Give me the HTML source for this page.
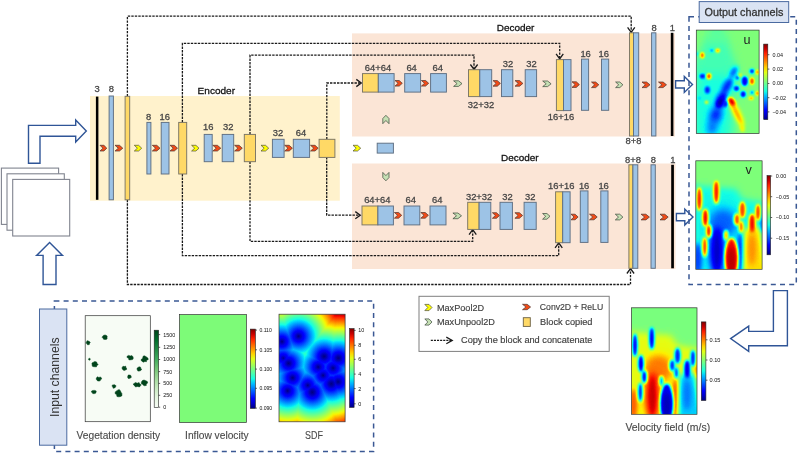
<!DOCTYPE html><html><head><meta charset="utf-8"><style>html,body{margin:0;padding:0;background:#fff;overflow:hidden}svg{display:block;will-change:transform;filter:blur(0.3px)}text{font-family:"Liberation Sans", sans-serif}</style></head><body>
<svg width="798" height="454" viewBox="0 0 798 454">
<rect width="798" height="454" fill="#fff"/>
<rect x="90.0" y="96.0" width="249.8" height="104.7" fill="#fff2cc"/>
<rect x="352.0" y="33.4" width="323.0" height="103.1" fill="#fbe5d6"/>
<rect x="352.0" y="163.5" width="323.5" height="105.5" fill="#fbe5d6"/>
<path d="M127.4,96.3 V16.2 H631.2 V32" stroke="#1a1a1a" stroke-width="1.3" stroke-dasharray="2.4 1.1" fill="none"/>
<path d="M627.6,27.4 L631.2,32.4 L634.8,27.4" stroke="#1a1a1a" stroke-width="1.3" fill="none"/>
<path d="M182.4,122.4 V43.3 H559.7 V58.5" stroke="#1a1a1a" stroke-width="1.3" stroke-dasharray="2.4 1.1" fill="none"/>
<path d="M556.1,53.8 L559.7,58.8 L563.3,53.8" stroke="#1a1a1a" stroke-width="1.3" fill="none"/>
<path d="M250,134.4 V55.1 H474 V69.2" stroke="#1a1a1a" stroke-width="1.3" stroke-dasharray="2.4 1.1" fill="none"/>
<path d="M470.4,64.5 L474.0,69.5 L477.6,64.5" stroke="#1a1a1a" stroke-width="1.3" fill="none"/>
<path d="M326.8,139.3 V83 H361" stroke="#1a1a1a" stroke-width="1.3" stroke-dasharray="2.4 1.1" fill="none"/>
<path d="M356.3,79.4 L361.3,83.0 L356.3,86.6" stroke="#1a1a1a" stroke-width="1.3" fill="none"/>
<path d="M127.4,199.8 V284.5 H630.5 V268.8" stroke="#1a1a1a" stroke-width="1.3" stroke-dasharray="2.4 1.1" fill="none"/>
<path d="M626.9,273.5 L630.5,268.5 L634.1,273.5" stroke="#1a1a1a" stroke-width="1.3" fill="none"/>
<path d="M182.4,174 V255.7 H558.7 V243.2" stroke="#1a1a1a" stroke-width="1.3" stroke-dasharray="2.4 1.1" fill="none"/>
<path d="M555.1,247.9 L558.7,242.9 L562.3,247.9" stroke="#1a1a1a" stroke-width="1.3" fill="none"/>
<path d="M250,161.7 V241.4 H472.7 V229.9" stroke="#1a1a1a" stroke-width="1.3" stroke-dasharray="2.4 1.1" fill="none"/>
<path d="M469.1,234.6 L472.7,229.6 L476.3,234.6" stroke="#1a1a1a" stroke-width="1.3" fill="none"/>
<path d="M326.7,157 V215.2 H360" stroke="#1a1a1a" stroke-width="1.3" stroke-dasharray="2.4 1.1" fill="none"/>
<path d="M355.3,211.6 L360.3,215.2 L355.3,218.8" stroke="#1a1a1a" stroke-width="1.3" fill="none"/>
<rect x="95.9" y="96.6" width="2.5" height="103.2" fill="#000"/>
<polygon points="100.0,145.3 103.9,145.3 106.8,148.2 103.9,151.0 100.0,151.0 102.9,148.2" fill="#f24b17" stroke="#4a3530" stroke-width="0.7" stroke-linejoin="round"/>
<rect x="109.1" y="96.0" width="4.3" height="103.8" fill="#9dc3e6" stroke="#5f6f82" stroke-width="0.95"/>
<polygon points="115.0,145.3 119.5,145.3 122.8,148.2 119.5,151.0 115.0,151.0 118.3,148.2" fill="#f24b17" stroke="#4a3530" stroke-width="0.7" stroke-linejoin="round"/>
<rect x="125.1" y="96.3" width="4.6" height="103.5" fill="#ffd966" stroke="#7a7565" stroke-width="0.95"/>
<polygon points="134.3,145.3 138.6,145.3 141.7,148.2 138.6,151.0 134.3,151.0 137.4,148.2" fill="#ffff00" stroke="#4f4f3a" stroke-width="0.7" stroke-linejoin="round"/>
<rect x="146.9" y="122.4" width="4.0" height="51.6" fill="#9dc3e6" stroke="#5f6f82" stroke-width="0.95"/>
<polygon points="152.3,145.3 156.8,145.3 160.0,148.2 156.8,151.0 152.3,151.0 155.5,148.2" fill="#f24b17" stroke="#4a3530" stroke-width="0.7" stroke-linejoin="round"/>
<rect x="161.2" y="122.4" width="7.8" height="51.6" fill="#9dc3e6" stroke="#5f6f82" stroke-width="0.95"/>
<polygon points="170.0,145.3 174.3,145.3 177.5,148.2 174.3,151.0 170.0,151.0 173.2,148.2" fill="#f24b17" stroke="#4a3530" stroke-width="0.7" stroke-linejoin="round"/>
<rect x="178.7" y="122.4" width="8.0" height="51.6" fill="#ffd966" stroke="#7a7565" stroke-width="0.95"/>
<polygon points="191.6,145.3 195.9,145.3 199.0,148.2 195.9,151.0 191.6,151.0 194.7,148.2" fill="#ffff00" stroke="#4f4f3a" stroke-width="0.7" stroke-linejoin="round"/>
<rect x="204.2" y="134.4" width="8.0" height="27.3" fill="#9dc3e6" stroke="#5f6f82" stroke-width="0.95"/>
<polygon points="212.8,145.3 217.4,145.3 220.8,148.2 217.4,151.0 212.8,151.0 216.2,148.2" fill="#f24b17" stroke="#4a3530" stroke-width="0.7" stroke-linejoin="round"/>
<rect x="222.2" y="134.4" width="11.5" height="27.3" fill="#9dc3e6" stroke="#5f6f82" stroke-width="0.95"/>
<polygon points="234.6,145.3 239.1,145.3 242.3,148.2 239.1,151.0 234.6,151.0 237.8,148.2" fill="#f24b17" stroke="#4a3530" stroke-width="0.7" stroke-linejoin="round"/>
<rect x="244.3" y="134.4" width="11.2" height="27.3" fill="#ffd966" stroke="#7a7565" stroke-width="0.95"/>
<polygon points="261.0,145.3 265.5,145.3 268.7,148.2 265.5,151.0 261.0,151.0 264.2,148.2" fill="#ffff00" stroke="#4f4f3a" stroke-width="0.7" stroke-linejoin="round"/>
<rect x="272.4" y="139.3" width="11.7" height="18.1" fill="#9dc3e6" stroke="#5f6f82" stroke-width="0.95"/>
<polygon points="284.7,145.3 289.2,145.3 292.4,148.2 289.2,151.0 284.7,151.0 287.9,148.2" fill="#f24b17" stroke="#4a3530" stroke-width="0.7" stroke-linejoin="round"/>
<rect x="293.3" y="139.3" width="16.3" height="18.1" fill="#9dc3e6" stroke="#5f6f82" stroke-width="0.95"/>
<polygon points="310.5,145.3 315.0,145.3 318.2,148.2 315.0,151.0 310.5,151.0 313.7,148.2" fill="#f24b17" stroke="#4a3530" stroke-width="0.7" stroke-linejoin="round"/>
<rect x="319.1" y="139.3" width="15.8" height="18.1" fill="#ffd966" stroke="#7a7565" stroke-width="0.95"/>
<text x="97.1" y="92.2" font-size="9.4" fill="#454545" stroke="#454545" stroke-width="0.28" text-anchor="middle" >3</text>
<text x="111.3" y="92.2" font-size="9.4" fill="#454545" stroke="#454545" stroke-width="0.28" text-anchor="middle" >8</text>
<text x="148.7" y="119.5" font-size="9.4" fill="#454545" stroke="#454545" stroke-width="0.28" text-anchor="middle" >8</text>
<text x="164.8" y="119.5" font-size="9.4" fill="#454545" stroke="#454545" stroke-width="0.28" text-anchor="middle" >16</text>
<text x="208.3" y="129.6" font-size="9.4" fill="#454545" stroke="#454545" stroke-width="0.28" text-anchor="middle" >16</text>
<text x="228.3" y="129.6" font-size="9.4" fill="#454545" stroke="#454545" stroke-width="0.28" text-anchor="middle" >32</text>
<text x="278.0" y="136.4" font-size="9.4" fill="#454545" stroke="#454545" stroke-width="0.28" text-anchor="middle" >32</text>
<text x="301.0" y="136.4" font-size="9.4" fill="#454545" stroke="#454545" stroke-width="0.28" text-anchor="middle" >64</text>
<text x="197.6" y="93.6" font-size="9.9" fill="#111" stroke="#111" stroke-width="0.28" text-anchor="start"  textLength="37.4" lengthAdjust="spacingAndGlyphs">Encoder</text>
<polygon points="353.0,145.3 357.5,145.3 360.7,148.2 357.5,151.0 353.0,151.0 356.2,148.2" fill="#ffff00" stroke="#4f4f3a" stroke-width="0.7" stroke-linejoin="round"/>
<rect x="377.2" y="143.2" width="16.2" height="9.9" fill="#9dc3e6" stroke="#5f6f82" stroke-width="0.95"/>
<polygon points="382.8,123.7 382.8,118.5 385.9,115.3 389.0,118.5 389.0,123.7 385.9,120.5" fill="#c5e0b4" stroke="#3a463a" stroke-width="0.7" stroke-linejoin="round"/>
<polygon points="382.8,172.4 385.9,175.6 389.0,172.4 389.0,177.6 385.9,180.8 382.8,177.6" fill="#c5e0b4" stroke="#3a463a" stroke-width="0.7" stroke-linejoin="round"/>
<rect x="362.5" y="73.6" width="15.8" height="18.5" fill="#ffd966" stroke="#7a7565" stroke-width="0.95"/>
<rect x="378.3" y="73.6" width="15.8" height="18.5" fill="#9dc3e6" stroke="#5f6f82" stroke-width="0.95"/>
<polygon points="395.0,80.5 399.2,80.5 402.3,83.3 399.2,86.1 395.0,86.1 398.1,83.3" fill="#f24b17" stroke="#4a3530" stroke-width="0.7" stroke-linejoin="round"/>
<rect x="404.7" y="73.6" width="15.9" height="18.5" fill="#9dc3e6" stroke="#5f6f82" stroke-width="0.95"/>
<polygon points="421.4,80.5 425.6,80.5 428.7,83.3 425.6,86.1 421.4,86.1 424.5,83.3" fill="#f24b17" stroke="#4a3530" stroke-width="0.7" stroke-linejoin="round"/>
<rect x="430.6" y="73.6" width="15.8" height="18.5" fill="#9dc3e6" stroke="#5f6f82" stroke-width="0.95"/>
<polygon points="453.6,80.8 458.5,80.8 462.0,83.6 458.5,86.4 453.6,86.4 457.1,83.6" fill="#c5e0b4" stroke="#3a463a" stroke-width="0.7" stroke-linejoin="round"/>
<rect x="468.5" y="69.7" width="11.3" height="26.9" fill="#ffd966" stroke="#7a7565" stroke-width="0.95"/>
<rect x="479.8" y="69.7" width="11.9" height="26.9" fill="#9dc3e6" stroke="#5f6f82" stroke-width="0.95"/>
<polygon points="493.0,80.6 497.3,80.6 500.4,83.4 497.3,86.2 493.0,86.2 496.1,83.4" fill="#f24b17" stroke="#4a3530" stroke-width="0.7" stroke-linejoin="round"/>
<rect x="501.5" y="69.7" width="11.3" height="26.9" fill="#9dc3e6" stroke="#5f6f82" stroke-width="0.95"/>
<polygon points="515.0,80.6 519.6,80.6 522.9,83.4 519.6,86.2 515.0,86.2 518.3,83.4" fill="#f24b17" stroke="#4a3530" stroke-width="0.7" stroke-linejoin="round"/>
<rect x="525.2" y="69.7" width="11.4" height="26.9" fill="#9dc3e6" stroke="#5f6f82" stroke-width="0.95"/>
<polygon points="542.7,81.0 547.6,81.0 551.1,83.8 547.6,86.6 542.7,86.6 546.2,83.8" fill="#c5e0b4" stroke="#3a463a" stroke-width="0.7" stroke-linejoin="round"/>
<rect x="556.4" y="59.6" width="7.1" height="51.0" fill="#ffd966" stroke="#7a7565" stroke-width="0.95"/>
<rect x="563.5" y="59.6" width="7.5" height="51.0" fill="#9dc3e6" stroke="#5f6f82" stroke-width="0.95"/>
<polygon points="572.0,81.8 576.3,81.8 579.4,84.6 576.3,87.4 572.0,87.4 575.1,84.6" fill="#f24b17" stroke="#4a3530" stroke-width="0.7" stroke-linejoin="round"/>
<rect x="581.5" y="59.1" width="7.1" height="51.2" fill="#9dc3e6" stroke="#5f6f82" stroke-width="0.95"/>
<polygon points="591.5,82.0 595.7,82.0 598.8,84.8 595.7,87.6 591.5,87.6 594.6,84.8" fill="#f24b17" stroke="#4a3530" stroke-width="0.7" stroke-linejoin="round"/>
<rect x="601.5" y="59.1" width="7.2" height="51.2" fill="#9dc3e6" stroke="#5f6f82" stroke-width="0.95"/>
<polygon points="615.6,82.0 619.8,82.0 622.9,84.8 619.8,87.6 615.6,87.6 618.7,84.8" fill="#c5e0b4" stroke="#3a463a" stroke-width="0.7" stroke-linejoin="round"/>
<rect x="629.5" y="32.8" width="4.0" height="103.2" fill="#ffd966" stroke="#7a7565" stroke-width="0.95"/>
<rect x="633.5" y="32.8" width="5.2" height="103.2" fill="#9dc3e6" stroke="#5f6f82" stroke-width="0.95"/>
<polygon points="642.0,82.0 646.6,82.0 650.0,84.8 646.6,87.6 642.0,87.6 645.4,84.8" fill="#f24b17" stroke="#4a3530" stroke-width="0.7" stroke-linejoin="round"/>
<rect x="651.6" y="32.8" width="4.3" height="103.2" fill="#9dc3e6" stroke="#5f6f82" stroke-width="0.95"/>
<polygon points="658.5,82.0 663.1,82.0 666.5,84.8 663.1,87.6 658.5,87.6 661.9,84.8" fill="#f24b17" stroke="#4a3530" stroke-width="0.7" stroke-linejoin="round"/>
<rect x="670.8" y="32.8" width="2.6" height="103.2" fill="#000"/>
<text x="378.0" y="70.7" font-size="9.4" fill="#454545" stroke="#454545" stroke-width="0.28" text-anchor="middle" >64+64</text>
<text x="411.6" y="70.7" font-size="9.4" fill="#454545" stroke="#454545" stroke-width="0.28" text-anchor="middle" >64</text>
<text x="437.7" y="70.7" font-size="9.4" fill="#454545" stroke="#454545" stroke-width="0.28" text-anchor="middle" >64</text>
<text x="481.0" y="107.6" font-size="9.4" fill="#454545" stroke="#454545" stroke-width="0.28" text-anchor="middle" >32+32</text>
<text x="508.0" y="67.1" font-size="9.4" fill="#454545" stroke="#454545" stroke-width="0.28" text-anchor="middle" >32</text>
<text x="531.4" y="67.1" font-size="9.4" fill="#454545" stroke="#454545" stroke-width="0.28" text-anchor="middle" >32</text>
<text x="561.0" y="119.6" font-size="9.4" fill="#454545" stroke="#454545" stroke-width="0.28" text-anchor="middle" >16+16</text>
<text x="585.6" y="57.1" font-size="9.4" fill="#454545" stroke="#454545" stroke-width="0.28" text-anchor="middle" >16</text>
<text x="603.8" y="57.1" font-size="9.4" fill="#454545" stroke="#454545" stroke-width="0.28" text-anchor="middle" >16</text>
<text x="654.1" y="31.0" font-size="9.4" fill="#454545" stroke="#454545" stroke-width="0.28" text-anchor="middle" >8</text>
<text x="672.4" y="31.0" font-size="9.4" fill="#454545" stroke="#454545" stroke-width="0.28" text-anchor="middle" >1</text>
<text x="633.5" y="143.8" font-size="9.4" fill="#454545" stroke="#454545" stroke-width="0.28" text-anchor="middle" >8+8</text>
<text x="496.8" y="30.9" font-size="9.9" fill="#111" stroke="#111" stroke-width="0.28" text-anchor="start"  textLength="37.6" lengthAdjust="spacingAndGlyphs">Decoder</text>
<rect x="362.0" y="206.0" width="15.9" height="18.9" fill="#ffd966" stroke="#7a7565" stroke-width="0.95"/>
<rect x="377.9" y="206.0" width="15.5" height="18.9" fill="#9dc3e6" stroke="#5f6f82" stroke-width="0.95"/>
<polygon points="394.4,212.5 398.6,212.5 401.7,215.3 398.6,218.2 394.4,218.2 397.5,215.3" fill="#f24b17" stroke="#4a3530" stroke-width="0.7" stroke-linejoin="round"/>
<rect x="404.0" y="206.0" width="15.8" height="18.9" fill="#9dc3e6" stroke="#5f6f82" stroke-width="0.95"/>
<polygon points="420.8,212.5 425.2,212.5 428.4,215.3 425.2,218.2 420.8,218.2 424.0,215.3" fill="#f24b17" stroke="#4a3530" stroke-width="0.7" stroke-linejoin="round"/>
<rect x="430.0" y="206.0" width="16.0" height="18.9" fill="#9dc3e6" stroke="#5f6f82" stroke-width="0.95"/>
<polygon points="452.9,213.0 457.9,213.0 461.5,215.8 457.9,218.7 452.9,218.7 456.5,215.8" fill="#c5e0b4" stroke="#3a463a" stroke-width="0.7" stroke-linejoin="round"/>
<rect x="467.7" y="202.3" width="11.4" height="27.1" fill="#ffd966" stroke="#7a7565" stroke-width="0.95"/>
<rect x="479.1" y="202.3" width="11.7" height="27.1" fill="#9dc3e6" stroke="#5f6f82" stroke-width="0.95"/>
<polygon points="492.4,212.7 496.5,212.7 499.5,215.5 496.5,218.3 492.4,218.3 495.4,215.5" fill="#f24b17" stroke="#4a3530" stroke-width="0.7" stroke-linejoin="round"/>
<rect x="500.0" y="202.3" width="12.4" height="27.1" fill="#9dc3e6" stroke="#5f6f82" stroke-width="0.95"/>
<polygon points="514.9,212.7 519.4,212.7 522.6,215.5 519.4,218.3 514.9,218.3 518.1,215.5" fill="#f24b17" stroke="#4a3530" stroke-width="0.7" stroke-linejoin="round"/>
<rect x="524.1" y="202.3" width="12.1" height="27.1" fill="#9dc3e6" stroke="#5f6f82" stroke-width="0.95"/>
<polygon points="542.6,213.5 546.9,213.5 550.0,216.3 546.9,219.2 542.6,219.2 545.7,216.3" fill="#c5e0b4" stroke="#3a463a" stroke-width="0.7" stroke-linejoin="round"/>
<rect x="555.6" y="191.8" width="7.1" height="50.9" fill="#ffd966" stroke="#7a7565" stroke-width="0.95"/>
<rect x="562.7" y="191.8" width="7.4" height="50.9" fill="#9dc3e6" stroke="#5f6f82" stroke-width="0.95"/>
<polygon points="571.0,214.2 575.1,214.2 578.1,217.0 575.1,219.8 571.0,219.8 574.0,217.0" fill="#f24b17" stroke="#4a3530" stroke-width="0.7" stroke-linejoin="round"/>
<rect x="580.3" y="190.9" width="7.7" height="51.5" fill="#9dc3e6" stroke="#5f6f82" stroke-width="0.95"/>
<polygon points="589.5,214.2 594.0,214.2 597.2,217.0 594.0,219.8 589.5,219.8 592.7,217.0" fill="#f24b17" stroke="#4a3530" stroke-width="0.7" stroke-linejoin="round"/>
<rect x="600.8" y="190.9" width="7.2" height="51.5" fill="#9dc3e6" stroke="#5f6f82" stroke-width="0.95"/>
<polygon points="615.3,214.2 619.7,214.2 622.9,217.1 619.7,219.9 615.3,219.9 618.5,217.1" fill="#c5e0b4" stroke="#3a463a" stroke-width="0.7" stroke-linejoin="round"/>
<rect x="628.9" y="164.8" width="4.0" height="103.5" fill="#ffd966" stroke="#7a7565" stroke-width="0.95"/>
<rect x="632.9" y="164.8" width="4.9" height="103.5" fill="#9dc3e6" stroke="#5f6f82" stroke-width="0.95"/>
<polygon points="641.1,214.2 645.9,214.2 649.4,217.1 645.9,219.9 641.1,219.9 644.6,217.1" fill="#f24b17" stroke="#4a3530" stroke-width="0.7" stroke-linejoin="round"/>
<rect x="651.0" y="164.8" width="4.3" height="103.5" fill="#9dc3e6" stroke="#5f6f82" stroke-width="0.95"/>
<polygon points="660.0,214.2 664.8,214.2 668.2,217.1 664.8,219.9 660.0,219.9 663.4,217.1" fill="#f24b17" stroke="#4a3530" stroke-width="0.7" stroke-linejoin="round"/>
<rect x="671.2" y="164.8" width="2.7" height="103.5" fill="#000"/>
<text x="377.3" y="203.2" font-size="9.4" fill="#454545" stroke="#454545" stroke-width="0.28" text-anchor="middle" >64+64</text>
<text x="410.8" y="203.2" font-size="9.4" fill="#454545" stroke="#454545" stroke-width="0.28" text-anchor="middle" >64</text>
<text x="437.3" y="203.2" font-size="9.4" fill="#454545" stroke="#454545" stroke-width="0.28" text-anchor="middle" >64</text>
<text x="479.1" y="199.5" font-size="9.4" fill="#454545" stroke="#454545" stroke-width="0.28" text-anchor="middle" >32+32</text>
<text x="507.4" y="199.5" font-size="9.4" fill="#454545" stroke="#454545" stroke-width="0.28" text-anchor="middle" >32</text>
<text x="530.3" y="199.5" font-size="9.4" fill="#454545" stroke="#454545" stroke-width="0.28" text-anchor="middle" >32</text>
<text x="561.2" y="188.9" font-size="9.4" fill="#454545" stroke="#454545" stroke-width="0.28" text-anchor="middle" >16+16</text>
<text x="584.1" y="189.0" font-size="9.4" fill="#454545" stroke="#454545" stroke-width="0.28" text-anchor="middle" >16</text>
<text x="603.6" y="189.0" font-size="9.4" fill="#454545" stroke="#454545" stroke-width="0.28" text-anchor="middle" >16</text>
<text x="632.9" y="162.9" font-size="9.4" fill="#454545" stroke="#454545" stroke-width="0.28" text-anchor="middle" >8+8</text>
<text x="653.4" y="162.9" font-size="9.4" fill="#454545" stroke="#454545" stroke-width="0.28" text-anchor="middle" >8</text>
<text x="672.9" y="162.9" font-size="9.4" fill="#454545" stroke="#454545" stroke-width="0.28" text-anchor="middle" >1</text>
<text x="501.0" y="160.7" font-size="9.9" fill="#111" stroke="#111" stroke-width="0.28" text-anchor="start"  textLength="37.6" lengthAdjust="spacingAndGlyphs">Decoder</text>
<rect x="1.4" y="168.1" width="57.2" height="56.3" fill="#fff" stroke="#80848f" stroke-width="1.1"/>
<rect x="7" y="173.8" width="57.3" height="56.4" fill="#fff" stroke="#80848f" stroke-width="1.1"/>
<rect x="12.7" y="179.4" width="57.0" height="56.6" fill="#fff" stroke="#80848f" stroke-width="1.1"/>
<path d="M28.5,163.2 L28.5,125.4 L75.7,125.4 L75.7,120 L86.3,131 L75.7,142 L75.7,136.3 L40,136.3 L40,163.2 Z" fill="#fff" stroke="#2f5597" stroke-width="1.4" stroke-linejoin="miter"/>
<path d="M49.6,242.6 L62.5,255.4 L56,255.4 L56,284.5 L43.1,284.5 L43.1,255.4 L36.6,255.4 Z" fill="#fff" stroke="#2f5597" stroke-width="1.4" stroke-linejoin="miter"/>
<path d="M675.6,80.8 L684.3,80.8 L684.3,76.4 L692.5,84.4 L684.3,92.4 L684.3,88.0 L675.6,88.0 Z" fill="#fff" stroke="#2f5597" stroke-width="1.4" stroke-linejoin="miter"/>
<path d="M676.4,213.5 L684.8,213.5 L684.8,209.1 L693,217.1 L684.8,225.1 L684.8,220.7 L676.4,220.7 Z" fill="#fff" stroke="#2f5597" stroke-width="1.4" stroke-linejoin="miter"/>
<path d="M773.4,290.6 L787.4,290.6 L787.4,345.7 L748.7,345.7 L748.7,351.3 L730.6,338.6 L748.7,326.1 L748.7,331.4 L773.4,331.4 Z" fill="#fff" stroke="#2f5597" stroke-width="1.4" stroke-linejoin="miter"/>
<rect x="689" y="16.7" width="107.3" height="267.8" fill="none" stroke="#3a5894" stroke-width="1.5" stroke-dasharray="5 4.2"/>
<rect x="54.4" y="301" width="319.2" height="150.4" fill="none" stroke="#3a5894" stroke-width="1.5" stroke-dasharray="5 4.2"/>
<rect x="699.2" y="1.6" width="89.5" height="20.9" fill="#dae3f3" stroke="#4a6aa0" stroke-width="1"/>
<text x="704.5" y="16.1" font-size="10.8" fill="#333" stroke="#333" stroke-width="0.28" text-anchor="start"  textLength="78.8" lengthAdjust="spacingAndGlyphs">Output channels</text>
<rect x="39.5" y="309" width="27.3" height="136.2" fill="#dae3f3" stroke="#4a6aa0" stroke-width="1"/>
<text x="0" y="0" font-size="13" fill="#333" text-anchor="middle" textLength="79.5" lengthAdjust="spacingAndGlyphs" transform="translate(58.5,377.2) rotate(-90)">Input channels</text>
<rect x="419" y="296.3" width="190.2" height="55.1" fill="#fff" stroke="#7f7f7f" stroke-width="1"/>
<polygon points="424.8,304.4 429.0,304.4 432.0,307.5 429.0,310.6 424.8,310.6 427.8,307.5" fill="#ffff00" stroke="#4f4f3a" stroke-width="0.7" stroke-linejoin="round"/>
<polygon points="424.8,318.9 429.0,318.9 432.0,322.0 429.0,325.1 424.8,325.1 427.8,322.0" fill="#c5e0b4" stroke="#3a463a" stroke-width="0.7" stroke-linejoin="round"/>
<polygon points="522.5,304.3 527.2,304.3 530.6,307.0 527.2,309.7 522.5,309.7 525.9,307.0" fill="#f24b17" stroke="#4a3530" stroke-width="0.7" stroke-linejoin="round"/>
<rect x="523.3" y="317.7" width="7.0" height="8.7" fill="#ffd966" stroke="#6b6045" stroke-width="0.9"/>
<text x="436.9" y="310.5" font-size="8.9" fill="#404040" stroke="#404040" stroke-width="0.15" text-anchor="start"  textLength="47.2" lengthAdjust="spacingAndGlyphs">MaxPool2D</text>
<text x="436.9" y="324.8" font-size="8.9" fill="#404040" stroke="#404040" stroke-width="0.15" text-anchor="start"  textLength="58.0" lengthAdjust="spacingAndGlyphs">MaxUnpool2D</text>
<text x="539.8" y="309.6" font-size="8.9" fill="#404040" stroke="#404040" stroke-width="0.15" text-anchor="start"  textLength="63.4" lengthAdjust="spacingAndGlyphs">Conv2D + ReLU</text>
<text x="540.1" y="324.6" font-size="8.9" fill="#404040" stroke="#404040" stroke-width="0.15" text-anchor="start"  textLength="52.4" lengthAdjust="spacingAndGlyphs">Block copied</text>
<text x="461.0" y="343.2" font-size="8.9" fill="#404040" stroke="#404040" stroke-width="0.15" text-anchor="start"  textLength="131.4" lengthAdjust="spacingAndGlyphs">Copy the block and concatenate</text>
<path d="M430.8,340.4 H451.5" stroke="#1a1a1a" stroke-width="1.2" stroke-dasharray="2.1 1"/>
<path d="M446.3,337.1 L452.3,340.4 L446.3,343.7" stroke="#1a1a1a" stroke-width="1.2" fill="none"/>
<text x="76.5" y="438.5" font-size="10" fill="#4a4a4a" stroke="#4a4a4a" stroke-width="0.12" text-anchor="start"  textLength="83.6" lengthAdjust="spacingAndGlyphs">Vegetation density</text>
<text x="185.1" y="438.5" font-size="10" fill="#4a4a4a" stroke="#4a4a4a" stroke-width="0.12" text-anchor="start"  textLength="63.6" lengthAdjust="spacingAndGlyphs">Inflow velocity</text>
<text x="305.1" y="438.8" font-size="10" fill="#4a4a4a" stroke="#4a4a4a" stroke-width="0.12" text-anchor="start"  textLength="17.8" lengthAdjust="spacingAndGlyphs">SDF</text>
<text x="625.4" y="430.6" font-size="10" fill="#4a4a4a" stroke="#4a4a4a" stroke-width="0.12" text-anchor="start"  textLength="84.8" lengthAdjust="spacingAndGlyphs">Velocity field (m/s)</text>
<defs><filter id="jetA" x="0" y="0" width="1" height="1" color-interpolation-filters="sRGB"><feGaussianBlur stdDeviation="0.5"/><feComponentTransfer><feFuncR type="table" tableValues="0.000 0.000 0.000 0.000 0.000 0.000 0.000 0.000 0.000 0.000 0.000 0.000 0.081 0.181 0.282 0.383 0.484 0.585 0.685 0.786 0.887 0.988 1.000 1.000 1.000 1.000 1.000 1.000 1.000 0.926 0.784 0.642 0.500"/><feFuncG type="table" tableValues="0.000 0.000 0.000 0.000 0.000 0.125 0.250 0.375 0.500 0.625 0.750 0.875 1.000 1.000 1.000 1.000 1.000 1.000 1.000 1.000 1.000 0.940 0.824 0.708 0.593 0.477 0.361 0.245 0.130 0.014 0.000 0.000 0.000"/><feFuncB type="table" tableValues="0.500 0.642 0.784 0.926 1.000 1.000 1.000 1.000 1.000 1.000 1.000 0.988 0.887 0.786 0.685 0.585 0.484 0.383 0.282 0.181 0.081 0.000 0.000 0.000 0.000 0.000 0.000 0.000 0.000 0.000 0.000 0.000 0.000"/></feComponentTransfer></filter><filter id="jetB" x="0" y="0" width="1" height="1" color-interpolation-filters="sRGB"><feGaussianBlur stdDeviation="0.5"/><feComponentTransfer><feFuncR type="table" tableValues="0.000 0.000 0.000 0.000 0.000 0.000 0.000 0.000 0.000 0.000 0.000 0.000 0.081 0.181 0.282 0.383 0.484 0.585 0.685 0.786 0.887 0.988 1.000 1.000 1.000 1.000 1.000 1.000 1.000 0.926 0.784 0.642 0.500"/><feFuncG type="table" tableValues="0.000 0.000 0.000 0.000 0.000 0.125 0.250 0.375 0.500 0.625 0.750 0.875 1.000 1.000 1.000 1.000 1.000 1.000 1.000 1.000 1.000 0.940 0.824 0.708 0.593 0.477 0.361 0.245 0.130 0.014 0.000 0.000 0.000"/><feFuncB type="table" tableValues="0.500 0.642 0.784 0.926 1.000 1.000 1.000 1.000 1.000 1.000 1.000 0.988 0.887 0.786 0.685 0.585 0.484 0.383 0.282 0.181 0.081 0.000 0.000 0.000 0.000 0.000 0.000 0.000 0.000 0.000 0.000 0.000 0.000"/></feComponentTransfer></filter><filter id="jetS" x="0" y="0" width="1" height="1" color-interpolation-filters="sRGB"><feGaussianBlur stdDeviation="0.6"/><feComponentTransfer><feFuncR type="table" tableValues="0.000 0.000 0.000 0.000 0.000 0.000 0.000 0.000 0.000 0.000 0.000 0.000 0.081 0.181 0.282 0.383 0.484 0.585 0.685 0.786 0.887 0.988 1.000 1.000 1.000 1.000 1.000 1.000 1.000 0.926 0.784 0.642 0.500"/><feFuncG type="table" tableValues="0.000 0.000 0.000 0.000 0.000 0.125 0.250 0.375 0.500 0.625 0.750 0.875 1.000 1.000 1.000 1.000 1.000 1.000 1.000 1.000 1.000 0.940 0.824 0.708 0.593 0.477 0.361 0.245 0.130 0.014 0.000 0.000 0.000"/><feFuncB type="table" tableValues="0.500 0.642 0.784 0.926 1.000 1.000 1.000 1.000 1.000 1.000 1.000 0.988 0.887 0.786 0.685 0.585 0.484 0.383 0.282 0.181 0.081 0.000 0.000 0.000 0.000 0.000 0.000 0.000 0.000 0.000 0.000 0.000 0.000"/></feComponentTransfer></filter><filter id="jetR" x="0" y="0" width="1" height="1" color-interpolation-filters="sRGB"><feGaussianBlur stdDeviation="0.5"/><feComponentTransfer><feFuncR type="table" tableValues="0.500 0.642 0.784 0.926 1.000 1.000 1.000 1.000 1.000 1.000 1.000 0.988 0.887 0.786 0.685 0.585 0.484 0.383 0.282 0.181 0.081 0.000 0.000 0.000 0.000 0.000 0.000 0.000 0.000 0.000 0.000 0.000 0.000"/><feFuncG type="table" tableValues="0.000 0.000 0.000 0.014 0.130 0.245 0.361 0.477 0.593 0.708 0.824 0.940 1.000 1.000 1.000 1.000 1.000 1.000 1.000 1.000 1.000 0.875 0.750 0.625 0.500 0.375 0.250 0.125 0.000 0.000 0.000 0.000 0.000"/><feFuncB type="table" tableValues="0.000 0.000 0.000 0.000 0.000 0.000 0.000 0.000 0.000 0.000 0.000 0.000 0.081 0.181 0.282 0.383 0.484 0.585 0.685 0.786 0.887 0.988 1.000 1.000 1.000 1.000 1.000 1.000 1.000 0.926 0.784 0.642 0.500"/></feComponentTransfer></filter><linearGradient id="gjet" x1="0" y1="0" x2="0" y2="1"><stop offset="0.000" stop-color="#800000"/><stop offset="0.062" stop-color="#c80000"/><stop offset="0.125" stop-color="#ff2100"/><stop offset="0.188" stop-color="#ff5c00"/><stop offset="0.250" stop-color="#ff9700"/><stop offset="0.312" stop-color="#ffd200"/><stop offset="0.375" stop-color="#e2ff15"/><stop offset="0.438" stop-color="#afff48"/><stop offset="0.500" stop-color="#7bff7b"/><stop offset="0.562" stop-color="#48ffaf"/><stop offset="0.625" stop-color="#15ffe2"/><stop offset="0.688" stop-color="#00bfff"/><stop offset="0.750" stop-color="#0080ff"/><stop offset="0.812" stop-color="#0040ff"/><stop offset="0.875" stop-color="#0000ff"/><stop offset="0.938" stop-color="#0000c8"/><stop offset="1.000" stop-color="#000080"/></linearGradient><linearGradient id="ggreen" x1="0" y1="0" x2="0" y2="1"><stop offset="0.000" stop-color="#00441b"/><stop offset="0.125" stop-color="#006d2c"/><stop offset="0.250" stop-color="#238b45"/><stop offset="0.375" stop-color="#41ab5d"/><stop offset="0.500" stop-color="#74c476"/><stop offset="0.625" stop-color="#a1d99b"/><stop offset="0.750" stop-color="#c7e9c0"/><stop offset="0.875" stop-color="#e5f5e0"/><stop offset="1.000" stop-color="#f7fcf5"/></linearGradient><filter id="b1" x="-2" y="-2" width="5" height="5" color-interpolation-filters="sRGB"><feGaussianBlur stdDeviation="1"/></filter><filter id="b1_2" x="-2" y="-2" width="5" height="5" color-interpolation-filters="sRGB"><feGaussianBlur stdDeviation="1.2"/></filter><filter id="b1_5" x="-2" y="-2" width="5" height="5" color-interpolation-filters="sRGB"><feGaussianBlur stdDeviation="1.5"/></filter><filter id="b1_6" x="-2" y="-2" width="5" height="5" color-interpolation-filters="sRGB"><feGaussianBlur stdDeviation="1.6"/></filter><filter id="b2" x="-2" y="-2" width="5" height="5" color-interpolation-filters="sRGB"><feGaussianBlur stdDeviation="2"/></filter><filter id="b2_5" x="-2" y="-2" width="5" height="5" color-interpolation-filters="sRGB"><feGaussianBlur stdDeviation="2.5"/></filter><filter id="b3" x="-2" y="-2" width="5" height="5" color-interpolation-filters="sRGB"><feGaussianBlur stdDeviation="3"/></filter><filter id="b4" x="-2" y="-2" width="5" height="5" color-interpolation-filters="sRGB"><feGaussianBlur stdDeviation="4"/></filter></defs><clipPath id="c696_30"><rect x="696.3" y="30.1" width="62.8" height="103.4"/></clipPath><g clip-path="url(#c696_30)"><g filter="url(#jetA)"><g transform="translate(696.3,30.1) scale(0.9968,0.9990)"><rect x="-10" y="-10" width="83" height="123.5" fill="#808080"/><polygon points="10,8 30,8 42,40 40,64 38,110 -5,110 -5,40" fill="#6e6e6e" filter="url(#b4)"/><polygon points="12,-5 28,-5 30,12 12,12" fill="#757575" filter="url(#b4)"/><polygon points="6,45 30,45 34,64 30,110 2,110 0,70" fill="#616161" filter="url(#b4)"/><ellipse cx="37.5" cy="42" rx="2.6" ry="6.5" fill="#292929" transform="rotate(30 37.5 42)" filter="url(#b2)"/><ellipse cx="31" cy="56" rx="4" ry="9" fill="#262626" transform="rotate(30 31 56)" filter="url(#b2)"/><ellipse cx="25" cy="70" rx="5" ry="9" fill="#1a1a1a" transform="rotate(25 25 70)" filter="url(#b2)"/><ellipse cx="23.5" cy="73" rx="2.5" ry="5" fill="#080808" transform="rotate(25 23.5 73)" filter="url(#b1_5)"/><ellipse cx="19.5" cy="85" rx="5.5" ry="9" fill="#242424" transform="rotate(18 19.5 85)" filter="url(#b3)"/><ellipse cx="16" cy="97" rx="4.5" ry="8" fill="#383838" transform="rotate(12 16 97)" filter="url(#b3)"/><ellipse cx="40" cy="82" rx="3.2" ry="16" fill="#c2c2c2" transform="rotate(-26 40 82)" filter="url(#b2)"/><ellipse cx="35.5" cy="71.5" rx="2.6" ry="4.5" fill="#f2f2f2" transform="rotate(-35 35.5 71.5)" filter="url(#b1_5)"/><ellipse cx="46" cy="98" rx="2.0" ry="4" fill="#adadad" transform="rotate(-15 46 98)" filter="url(#b1_5)"/><ellipse cx="6.2" cy="46.2" rx="2.875" ry="2.5" fill="#242424" filter="url(#b1)"/><ellipse cx="11.1" cy="60" rx="2.5" ry="3.5" fill="#262626" filter="url(#b1)"/><ellipse cx="40.4" cy="58.4" rx="2.75" ry="2.75" fill="#262626" filter="url(#b1)"/><ellipse cx="48.6" cy="51.1" rx="3.25" ry="5.0" fill="#1f1f1f" filter="url(#b1)"/><ellipse cx="47" cy="64.1" rx="2.75" ry="3.25" fill="#212121" filter="url(#b1)"/><ellipse cx="55.9" cy="41.3" rx="2.5" ry="2.5" fill="#292929" filter="url(#b1)"/><ellipse cx="55.9" cy="62.5" rx="1.75" ry="1.75" fill="#333333" filter="url(#b1)"/><ellipse cx="41.2" cy="47.8" rx="2.0" ry="2.5" fill="#333333" filter="url(#b1)"/><ellipse cx="15.5" cy="20.5" rx="1.75" ry="1.75" fill="#404040" filter="url(#b1)"/><ellipse cx="29" cy="73.9" rx="2.25" ry="3.0" fill="#262626" filter="url(#b1)"/><ellipse cx="0.5" cy="24" rx="1.75" ry="1.75" fill="#4c4c4c" filter="url(#b1)"/><ellipse cx="3" cy="68" rx="1.875" ry="1.875" fill="#545454" filter="url(#b1)"/><ellipse cx="12.7" cy="46.2" rx="2.4" ry="3.12" fill="#d1d1d1" filter="url(#b1)"/><ellipse cx="6" cy="25.2" rx="2.16" ry="3.12" fill="#cccccc" filter="url(#b1)"/><ellipse cx="21.5" cy="20.5" rx="2.16" ry="2.16" fill="#c2c2c2" filter="url(#b1)"/><ellipse cx="55.9" cy="51.1" rx="2.16" ry="3.36" fill="#d6d6d6" filter="url(#b1)"/><ellipse cx="61.3" cy="42.1" rx="1.68" ry="2.4" fill="#c7c7c7" filter="url(#b1)"/><ellipse cx="61.3" cy="63.3" rx="1.68" ry="2.4" fill="#cccccc" filter="url(#b1)"/><ellipse cx="55.1" cy="68.2" rx="2.4" ry="1.7999999999999998" fill="#bfbfbf" filter="url(#b1)"/><ellipse cx="10.3" cy="72.2" rx="1.7999999999999998" ry="1.7999999999999998" fill="#a8a8a8" filter="url(#b1)"/><ellipse cx="44" cy="45" rx="1.56" ry="1.56" fill="#adadad" filter="url(#b1)"/></g></g></g><rect x="696.3" y="30.1" width="62.8" height="103.4" fill="none" stroke="#333" stroke-width="0.7"/><text x="747.1" y="43.8" font-size="12.6" fill="#222" text-anchor="middle">u</text><rect x="763.7" y="44.1" width="4.1" height="75.5" fill="url(#gjet)" stroke="#222" stroke-width="0.6"/><path d="M767.8,54.7 h1.6" stroke="#222" stroke-width="0.7"/><text x="772.4" y="56.6" font-size="5.4" fill="#111">0.04</text><path d="M767.8,69.1 h1.6" stroke="#222" stroke-width="0.7"/><text x="772.4" y="71.0" font-size="5.4" fill="#111">0.02</text><path d="M767.8,83.5 h1.6" stroke="#222" stroke-width="0.7"/><text x="772.4" y="85.4" font-size="5.4" fill="#111">0.00</text><path d="M767.8,97.7 h1.6" stroke="#222" stroke-width="0.7"/><text x="772.4" y="99.6" font-size="5.4" fill="#111">−0.02</text><path d="M767.8,111.9 h1.6" stroke="#222" stroke-width="0.7"/><text x="772.4" y="113.8" font-size="5.4" fill="#111">−0.04</text><clipPath id="c695_160"><rect x="695.8" y="160.8" width="66.3" height="108.5"/></clipPath><g clip-path="url(#c695_160)"><g filter="url(#jetB)"><g transform="translate(695.8,160.8) scale(1.0045,1.0046)"><rect x="-10" y="-10" width="86" height="128" fill="#808080"/><polygon points="-5,24 40,28 46,38 70,42 70,115 -5,115" fill="#5e5e5e" filter="url(#b3)"/><ellipse cx="27" cy="62" rx="14" ry="14" fill="#383838" filter="url(#b4)"/><ellipse cx="21" cy="90" rx="7" ry="24" fill="#0f0f0f" filter="url(#b3)"/><ellipse cx="45" cy="92" rx="3.5" ry="20" fill="#1f1f1f" filter="url(#b2)"/><ellipse cx="2" cy="98" rx="4" ry="16" fill="#2e2e2e" filter="url(#b2)"/><polygon points="48,68 64,66 70,112 47,112" fill="#adadad" filter="url(#b2_5)"/><ellipse cx="65.5" cy="60" rx="1.5" ry="12" fill="#404040" filter="url(#b1)"/><ellipse cx="3.5" cy="38" rx="2.6" ry="12" fill="#e6e6e6" filter="url(#b1_6)"/><ellipse cx="20.4" cy="31.3" rx="2.8" ry="11.5" fill="#e6e6e6" filter="url(#b1_6)"/><ellipse cx="9.5" cy="56.7" rx="2.9" ry="9" fill="#ebebeb" filter="url(#b1_6)"/><ellipse cx="12.9" cy="70" rx="2.6" ry="6.6" fill="#e6e6e6" filter="url(#b1_6)"/><ellipse cx="8.9" cy="85.7" rx="2.3" ry="10" fill="#e0e0e0" filter="url(#b1_6)"/><ellipse cx="30.1" cy="74.2" rx="1.7" ry="5" fill="#d9d9d9" filter="url(#b1_6)"/><ellipse cx="35.5" cy="96" rx="6.5" ry="19" fill="#e6e6e6" filter="url(#b1_6)"/><ellipse cx="46.4" cy="48.8" rx="3.2" ry="8.5" fill="#d9d9d9" filter="url(#b1_6)"/><ellipse cx="41" cy="58.5" rx="2.8" ry="6" fill="#dbdbdb" filter="url(#b1_6)"/><ellipse cx="45.2" cy="65.7" rx="2.2" ry="6" fill="#d6d6d6" filter="url(#b1_6)"/><ellipse cx="61.9" cy="51.2" rx="2.6" ry="8.5" fill="#dedede" filter="url(#b1_6)"/><ellipse cx="56.1" cy="62.1" rx="3.4" ry="9.6" fill="#e6e6e6" filter="url(#b1_6)"/><ellipse cx="35.5" cy="100" rx="4" ry="14" fill="#f2f2f2" filter="url(#b2)"/><ellipse cx="56" cy="88" rx="4" ry="16" fill="#c2c2c2" filter="url(#b2_5)"/></g></g></g><rect x="695.8" y="160.8" width="66.3" height="108.5" fill="none" stroke="#333" stroke-width="0.7"/><text x="748.7" y="174" font-size="12.6" fill="#222" text-anchor="middle">v</text><rect x="767.0" y="175.6" width="3.6" height="79.2" fill="url(#gjet)" stroke="#222" stroke-width="0.6"/><path d="M770.6,176 h1.6" stroke="#222" stroke-width="0.7"/><text x="775.7" y="177.9" font-size="5.4" fill="#111">0.00</text><path d="M770.6,196.7 h1.6" stroke="#222" stroke-width="0.7"/><text x="775.7" y="198.6" font-size="5.4" fill="#111">−0.05</text><path d="M770.6,217.5 h1.6" stroke="#222" stroke-width="0.7"/><text x="775.7" y="219.4" font-size="5.4" fill="#111">−0.10</text><path d="M770.6,238.2 h1.6" stroke="#222" stroke-width="0.7"/><text x="775.7" y="240.1" font-size="5.4" fill="#111">−0.15</text><clipPath id="c631_307"><rect x="631.5" y="307.8" width="65.5" height="106.5"/></clipPath><g clip-path="url(#c631_307)"><g filter="url(#jetR)"><g transform="translate(631.5,307.8) scale(0.9924,0.9861)"><rect x="-10" y="-10" width="86" height="128" fill="#808080"/><polygon points="-5,24 40,28 46,38 70,42 70,115 -5,115" fill="#5e5e5e" filter="url(#b3)"/><ellipse cx="27" cy="62" rx="14" ry="14" fill="#383838" filter="url(#b4)"/><ellipse cx="21" cy="90" rx="7" ry="24" fill="#0f0f0f" filter="url(#b3)"/><ellipse cx="45" cy="92" rx="3.5" ry="20" fill="#1f1f1f" filter="url(#b2)"/><ellipse cx="2" cy="98" rx="4" ry="16" fill="#2e2e2e" filter="url(#b2)"/><polygon points="48,68 64,66 70,112 47,112" fill="#adadad" filter="url(#b2_5)"/><ellipse cx="65.5" cy="60" rx="1.5" ry="12" fill="#404040" filter="url(#b1)"/><ellipse cx="3.5" cy="38" rx="2.6" ry="12" fill="#e6e6e6" filter="url(#b1_6)"/><ellipse cx="20.4" cy="31.3" rx="2.8" ry="11.5" fill="#e6e6e6" filter="url(#b1_6)"/><ellipse cx="9.5" cy="56.7" rx="2.9" ry="9" fill="#ebebeb" filter="url(#b1_6)"/><ellipse cx="12.9" cy="70" rx="2.6" ry="6.6" fill="#e6e6e6" filter="url(#b1_6)"/><ellipse cx="8.9" cy="85.7" rx="2.3" ry="10" fill="#e0e0e0" filter="url(#b1_6)"/><ellipse cx="30.1" cy="74.2" rx="1.7" ry="5" fill="#d9d9d9" filter="url(#b1_6)"/><ellipse cx="35.5" cy="96" rx="6.5" ry="19" fill="#e6e6e6" filter="url(#b1_6)"/><ellipse cx="46.4" cy="48.8" rx="3.2" ry="8.5" fill="#d9d9d9" filter="url(#b1_6)"/><ellipse cx="41" cy="58.5" rx="2.8" ry="6" fill="#dbdbdb" filter="url(#b1_6)"/><ellipse cx="45.2" cy="65.7" rx="2.2" ry="6" fill="#d6d6d6" filter="url(#b1_6)"/><ellipse cx="61.9" cy="51.2" rx="2.6" ry="8.5" fill="#dedede" filter="url(#b1_6)"/><ellipse cx="56.1" cy="62.1" rx="3.4" ry="9.6" fill="#e6e6e6" filter="url(#b1_6)"/><ellipse cx="35.5" cy="100" rx="4" ry="14" fill="#f2f2f2" filter="url(#b2)"/><ellipse cx="56" cy="88" rx="4" ry="16" fill="#c2c2c2" filter="url(#b2_5)"/></g></g></g><rect x="631.5" y="307.8" width="65.5" height="106.5" fill="none" stroke="#333" stroke-width="0.7"/><rect x="701.3" y="321.9" width="4.6" height="78.6" fill="url(#gjet)" stroke="#222" stroke-width="0.6"/><path d="M705.9,339.8 h1.6" stroke="#222" stroke-width="0.7"/><text x="709.6" y="341.8" font-size="5.6" fill="#111">0.15</text><path d="M705.9,360 h1.6" stroke="#222" stroke-width="0.7"/><text x="709.6" y="362.0" font-size="5.6" fill="#111">0.10</text><path d="M705.9,380.2 h1.6" stroke="#222" stroke-width="0.7"/><text x="709.6" y="382.2" font-size="5.6" fill="#111">0.05</text><rect x="85.2" y="315.7" width="65.1" height="106" fill="#f7fcf5" stroke="#333" stroke-width="0.7"/><polygon points="90.3,342.7 89.5,343.5 89.3,344.6 88.5,344.7 87.4,344.7 87.0,343.6 85.7,342.9 86.6,342.2 87.0,340.7 88.2,341.0 89.4,341.4 89.8,342.1" fill="#00441b" stroke="#00441b" stroke-width="0.5" stroke-linejoin="round"/><polygon points="107.0,337.2 107.2,338.6 106.3,339.4 104.6,339.4 103.5,339.2 103.2,338.5 102.1,337.3 102.5,336.4 103.4,335.4 104.9,335.0 105.9,335.2 107.2,336.1" fill="#00441b" stroke="#00441b" stroke-width="0.5" stroke-linejoin="round"/><polygon points="90.3,359.4 89.9,359.7 90.0,360.1 89.5,360.1 89.0,360.2 88.6,359.7 88.5,359.2 88.6,358.8 88.9,358.5 89.5,358.3 89.9,358.5 90.2,358.7" fill="#00441b" stroke="#00441b" stroke-width="0.5" stroke-linejoin="round"/><polygon points="98.2,364.6 96.7,365.7 96.4,366.9 95.2,366.8 93.7,366.7 92.3,366.2 92.1,364.8 91.9,363.1 93.0,362.4 94.8,361.5 96.7,362.1 96.9,363.2" fill="#00441b" stroke="#00441b" stroke-width="0.5" stroke-linejoin="round"/><polygon points="101.7,378.9 100.2,380.0 100.2,380.8 99.0,381.1 97.5,380.9 97.1,380.3 96.1,379.1 96.7,377.5 97.5,376.8 98.9,377.5 100.5,376.9 101.4,378.0" fill="#00441b" stroke="#00441b" stroke-width="0.5" stroke-linejoin="round"/><polygon points="96.0,392.0 95.9,392.9 95.0,393.6 93.9,393.6 92.9,393.7 92.6,393.0 91.6,392.3 91.4,391.2 92.8,390.4 93.7,390.4 94.8,390.4 96.3,391.1" fill="#00441b" stroke="#00441b" stroke-width="0.5" stroke-linejoin="round"/><polygon points="116.0,386.5 115.2,387.0 115.0,387.9 113.9,387.8 113.2,388.4 112.8,387.1 112.3,386.5 112.0,385.4 113.2,384.7 113.9,385.0 114.9,384.7 115.8,385.6" fill="#00441b" stroke="#00441b" stroke-width="0.5" stroke-linejoin="round"/><polygon points="121.8,393.2 122.0,395.7 120.1,396.7 118.1,396.8 116.9,396.4 116.6,394.5 115.2,393.8 115.2,391.9 117.2,390.4 119.1,389.5 120.6,390.9 120.7,392.0" fill="#00441b" stroke="#00441b" stroke-width="0.5" stroke-linejoin="round"/><polygon points="126.5,368.0 126.6,369.5 125.3,370.1 124.3,370.5 123.5,370.2 122.2,369.1 122.1,368.0 122.2,367.3 123.0,366.3 124.7,366.5 125.6,366.1 125.9,367.5" fill="#00441b" stroke="#00441b" stroke-width="0.5" stroke-linejoin="round"/><polygon points="133.2,357.4 133.1,359.1 132.4,359.6 129.8,359.9 128.8,359.7 128.7,358.4 126.9,357.3 127.1,356.3 128.4,355.4 130.5,355.9 131.6,355.6 132.8,356.4" fill="#00441b" stroke="#00441b" stroke-width="0.5" stroke-linejoin="round"/><polygon points="131.2,376.5 131.3,377.4 130.3,378.1 129.2,378.6 128.2,378.4 127.7,377.4 127.6,376.6 128.1,376.0 128.0,375.1 129.1,375.0 130.4,375.1 130.8,375.7" fill="#00441b" stroke="#00441b" stroke-width="0.5" stroke-linejoin="round"/><polygon points="141.7,369.2 141.2,370.0 140.4,370.8 139.0,371.1 137.9,371.1 137.4,369.9 136.9,369.1 137.2,368.1 138.0,367.4 139.2,366.8 140.6,367.2 140.8,368.6" fill="#00441b" stroke="#00441b" stroke-width="0.5" stroke-linejoin="round"/><polygon points="148.3,359.4 146.4,360.5 146.5,361.7 144.9,361.5 143.3,362.2 141.3,360.7 141.1,359.6 142.7,358.2 143.1,356.2 144.3,355.8 146.1,356.7 147.9,358.1" fill="#00441b" stroke="#00441b" stroke-width="0.5" stroke-linejoin="round"/><polygon points="141.3,384.8 140.2,386.0 139.6,386.9 137.3,386.5 135.5,387.0 135.1,386.2 133.6,384.9 133.3,383.9 135.6,382.5 137.2,383.2 139.1,382.6 139.7,384.1" fill="#00441b" stroke="#00441b" stroke-width="0.5" stroke-linejoin="round"/><polygon points="147.7,382.9 146.2,384.2 146.3,385.5 144.3,385.7 143.4,385.2 142.2,384.0 141.1,383.4 141.7,381.4 142.4,380.6 144.0,380.0 145.8,380.7 147.3,381.5" fill="#00441b" stroke="#00441b" stroke-width="0.5" stroke-linejoin="round"/><rect x="154.2" y="330.2" width="4.4" height="77.2" fill="url(#ggreen)" stroke="#222" stroke-width="0.6"/><path d="M158.6,334.6 h1.6" stroke="#222" stroke-width="0.7"/><text x="163.2" y="336.5" font-size="5.4" fill="#111">1500</text><path d="M158.6,347.3 h1.6" stroke="#222" stroke-width="0.7"/><text x="163.2" y="349.2" font-size="5.4" fill="#111">1250</text><path d="M158.6,359.5 h1.6" stroke="#222" stroke-width="0.7"/><text x="163.2" y="361.4" font-size="5.4" fill="#111">1000</text><path d="M158.6,371.6 h1.6" stroke="#222" stroke-width="0.7"/><text x="163.2" y="373.5" font-size="5.4" fill="#111">750</text><path d="M158.6,383.4 h1.6" stroke="#222" stroke-width="0.7"/><text x="163.2" y="385.3" font-size="5.4" fill="#111">500</text><path d="M158.6,395.3 h1.6" stroke="#222" stroke-width="0.7"/><text x="163.2" y="397.2" font-size="5.4" fill="#111">250</text><path d="M158.6,407.2 h1.6" stroke="#222" stroke-width="0.7"/><text x="163.2" y="409.1" font-size="5.4" fill="#111">0</text><rect x="179.6" y="314.6" width="66.8" height="107.9" fill="#7dfb78" stroke="#333" stroke-width="0.7"/><rect x="250.3" y="329.1" width="5.1" height="79.3" fill="url(#gjet)" stroke="#222" stroke-width="0.6"/><path d="M255.4,330.1 h1.6" stroke="#222" stroke-width="0.7"/><text x="259.4" y="331.9" font-size="5.1" fill="#111">0.110</text><path d="M255.4,349.8 h1.6" stroke="#222" stroke-width="0.7"/><text x="259.4" y="351.6" font-size="5.1" fill="#111">0.105</text><path d="M255.4,369.1 h1.6" stroke="#222" stroke-width="0.7"/><text x="259.4" y="370.9" font-size="5.1" fill="#111">0.100</text><path d="M255.4,388.3 h1.6" stroke="#222" stroke-width="0.7"/><text x="259.4" y="390.1" font-size="5.1" fill="#111">0.095</text><path d="M255.4,408.1 h1.6" stroke="#222" stroke-width="0.7"/><text x="259.4" y="409.9" font-size="5.1" fill="#111">0.090</text><radialGradient id="sg0" gradientUnits="userSpaceOnUse" cx="282.0" cy="341.6" r="45.9"><stop offset="0" stop-color="#000"/><stop offset="0.038" stop-color="#0c0c0c"/><stop offset="1" stop-color="#fff"/></radialGradient><radialGradient id="sg1" gradientUnits="userSpaceOnUse" cx="298.5" cy="336.2" r="46.1"><stop offset="0" stop-color="#000"/><stop offset="0.043" stop-color="#0c0c0c"/><stop offset="1" stop-color="#fff"/></radialGradient><radialGradient id="sg2" gradientUnits="userSpaceOnUse" cx="283.2" cy="358.1" r="44.9"><stop offset="0" stop-color="#000"/><stop offset="0.017" stop-color="#0c0c0c"/><stop offset="1" stop-color="#fff"/></radialGradient><radialGradient id="sg3" gradientUnits="userSpaceOnUse" cx="288.6" cy="363.3" r="46.4"><stop offset="0" stop-color="#000"/><stop offset="0.049" stop-color="#0c0c0c"/><stop offset="1" stop-color="#fff"/></radialGradient><radialGradient id="sg4" gradientUnits="userSpaceOnUse" cx="292.6" cy="377.8" r="46.1"><stop offset="0" stop-color="#000"/><stop offset="0.043" stop-color="#0c0c0c"/><stop offset="1" stop-color="#fff"/></radialGradient><radialGradient id="sg5" gradientUnits="userSpaceOnUse" cx="287.6" cy="390.9" r="45.9"><stop offset="0" stop-color="#000"/><stop offset="0.038" stop-color="#0c0c0c"/><stop offset="1" stop-color="#fff"/></radialGradient><radialGradient id="sg6" gradientUnits="userSpaceOnUse" cx="307.8" cy="385.3" r="45.6"><stop offset="0" stop-color="#000"/><stop offset="0.033" stop-color="#0c0c0c"/><stop offset="1" stop-color="#fff"/></radialGradient><radialGradient id="sg7" gradientUnits="userSpaceOnUse" cx="312.3" cy="392.2" r="46.9"><stop offset="0" stop-color="#000"/><stop offset="0.059" stop-color="#0c0c0c"/><stop offset="1" stop-color="#fff"/></radialGradient><radialGradient id="sg8" gradientUnits="userSpaceOnUse" cx="318.2" cy="367.0" r="45.9"><stop offset="0" stop-color="#000"/><stop offset="0.038" stop-color="#0c0c0c"/><stop offset="1" stop-color="#fff"/></radialGradient><radialGradient id="sg9" gradientUnits="userSpaceOnUse" cx="324.1" cy="356.4" r="46.6"><stop offset="0" stop-color="#000"/><stop offset="0.054" stop-color="#0c0c0c"/><stop offset="1" stop-color="#fff"/></radialGradient><radialGradient id="sg10" gradientUnits="userSpaceOnUse" cx="323.1" cy="375.4" r="45.6"><stop offset="0" stop-color="#000"/><stop offset="0.033" stop-color="#0c0c0c"/><stop offset="1" stop-color="#fff"/></radialGradient><radialGradient id="sg11" gradientUnits="userSpaceOnUse" cx="333.0" cy="368.0" r="45.9"><stop offset="0" stop-color="#000"/><stop offset="0.038" stop-color="#0c0c0c"/><stop offset="1" stop-color="#fff"/></radialGradient><radialGradient id="sg12" gradientUnits="userSpaceOnUse" cx="338.4" cy="358.1" r="46.6"><stop offset="0" stop-color="#000"/><stop offset="0.054" stop-color="#0c0c0c"/><stop offset="1" stop-color="#fff"/></radialGradient><radialGradient id="sg13" gradientUnits="userSpaceOnUse" cx="331.3" cy="383.8" r="46.9"><stop offset="0" stop-color="#000"/><stop offset="0.059" stop-color="#0c0c0c"/><stop offset="1" stop-color="#fff"/></radialGradient><radialGradient id="sg14" gradientUnits="userSpaceOnUse" cx="338.2" cy="381.8" r="46.4"><stop offset="0" stop-color="#000"/><stop offset="0.049" stop-color="#0c0c0c"/><stop offset="1" stop-color="#fff"/></radialGradient><clipPath id="csdf"><rect x="279" y="314.2" width="66.1" height="107.6"/></clipPath><g clip-path="url(#csdf)"><g filter="url(#jetS)" style="isolation:isolate"><rect x="269" y="304.2" width="86.1" height="127.6" fill="#fff"/><circle cx="282.0" cy="341.6" r="45.9" fill="url(#sg0)" style="mix-blend-mode:darken"/><circle cx="298.5" cy="336.2" r="46.1" fill="url(#sg1)" style="mix-blend-mode:darken"/><circle cx="283.2" cy="358.1" r="44.9" fill="url(#sg2)" style="mix-blend-mode:darken"/><circle cx="288.6" cy="363.3" r="46.4" fill="url(#sg3)" style="mix-blend-mode:darken"/><circle cx="292.6" cy="377.8" r="46.1" fill="url(#sg4)" style="mix-blend-mode:darken"/><circle cx="287.6" cy="390.9" r="45.9" fill="url(#sg5)" style="mix-blend-mode:darken"/><circle cx="307.8" cy="385.3" r="45.6" fill="url(#sg6)" style="mix-blend-mode:darken"/><circle cx="312.3" cy="392.2" r="46.9" fill="url(#sg7)" style="mix-blend-mode:darken"/><circle cx="318.2" cy="367.0" r="45.9" fill="url(#sg8)" style="mix-blend-mode:darken"/><circle cx="324.1" cy="356.4" r="46.6" fill="url(#sg9)" style="mix-blend-mode:darken"/><circle cx="323.1" cy="375.4" r="45.6" fill="url(#sg10)" style="mix-blend-mode:darken"/><circle cx="333.0" cy="368.0" r="45.9" fill="url(#sg11)" style="mix-blend-mode:darken"/><circle cx="338.4" cy="358.1" r="46.6" fill="url(#sg12)" style="mix-blend-mode:darken"/><circle cx="331.3" cy="383.8" r="46.9" fill="url(#sg13)" style="mix-blend-mode:darken"/><circle cx="338.2" cy="381.8" r="46.4" fill="url(#sg14)" style="mix-blend-mode:darken"/></g></g><rect x="279" y="314.2" width="66.1" height="107.6" fill="none" stroke="#333" stroke-width="0.7"/><rect x="349.5" y="328.6" width="4.6" height="78.8" fill="url(#gjet)" stroke="#222" stroke-width="0.6"/><path d="M354.1,330.4 h1.6" stroke="#222" stroke-width="0.7"/><text x="358.2" y="332.3" font-size="5.4" fill="#111">10</text><path d="M354.1,345.3 h1.6" stroke="#222" stroke-width="0.7"/><text x="358.2" y="347.2" font-size="5.4" fill="#111">8</text><path d="M354.1,359.3 h1.6" stroke="#222" stroke-width="0.7"/><text x="358.2" y="361.2" font-size="5.4" fill="#111">6</text><path d="M354.1,374.1 h1.6" stroke="#222" stroke-width="0.7"/><text x="358.2" y="376.0" font-size="5.4" fill="#111">4</text><path d="M354.1,388.6 h1.6" stroke="#222" stroke-width="0.7"/><text x="358.2" y="390.5" font-size="5.4" fill="#111">2</text><path d="M354.1,403.8 h1.6" stroke="#222" stroke-width="0.7"/><text x="358.2" y="405.7" font-size="5.4" fill="#111">0</text>
</svg></body></html>
